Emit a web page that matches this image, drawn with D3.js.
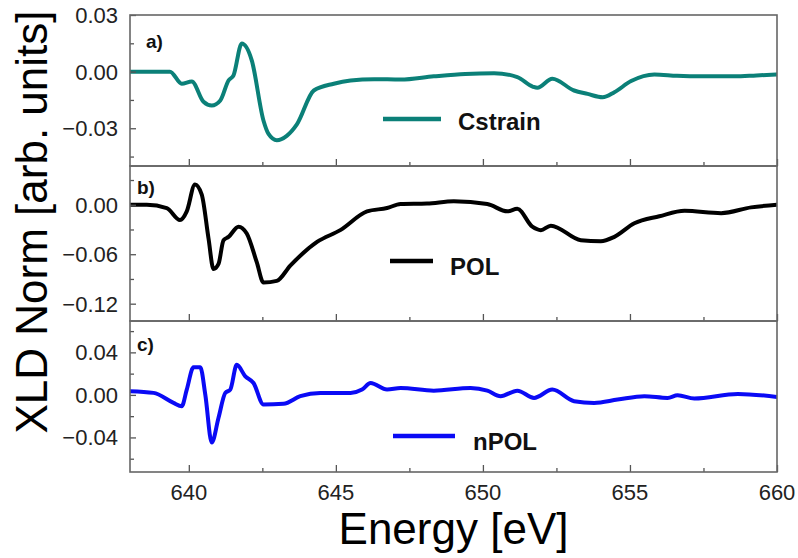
<!DOCTYPE html>
<html><head><meta charset="utf-8">
<script src="https://cdn.jsdelivr.net/npm/d3@7/dist/d3.min.js"></script>
<style>body{margin:0;background:#fff}svg{display:block}text{font-family:"Liberation Sans",Arial,sans-serif}</style>
</head><body><svg id="c" width="798" height="558"></svg>
<script>
// ---- data ----
const cstrainE = [638,639.36,639.76,640.1,640.5,640.78,641.07,641.35,641.52,641.8,642.14,642.54,642.71,642.99,643.33,643.68,644.25,644.93,645.5,646.3,647.2,648.33,649.4,650.38,651.17,651.69,651.85,652.36,653.1,653.56,654.07,654.47,655.04,655.83,656.6,657.42,658.56,659.3,660];
const cstrainV = [0,0,-0.0064,-0.0052,-0.016,-0.018,-0.0153,-0.0047,-0.002,0.0149,0.006,-0.026,-0.033,-0.0363,-0.034,-0.0278,-0.010,-0.0064,-0.0047,-0.0040,-0.0042,-0.0025,-0.0012,-0.0008,-0.0029,-0.0079,-0.0086,-0.0038,-0.010,-0.0118,-0.0136,-0.0109,-0.005,-0.0015,-0.0022,-0.0025,-0.0025,-0.0020,-0.0015];
const polE = [638,638.57,639.25,639.7,639.93,640.21,640.44,640.67,640.84,641.01,641.18,641.35,641.69,641.97,642.31,642.54,642.99,643.45,644.36,645.15,646.06,646.74,647.2,648.1,649.01,650.15,650.83,651.17,651.68,651.97,652.31,653.33,654.01,654.47,655.15,656.0,656.86,658.1,659.12,660];
const polV = [0,0,-0.004,-0.0185,-0.008,0.0246,0.0123,-0.041,-0.078,-0.0718,-0.043,-0.039,-0.0266,-0.0349,-0.0697,-0.0944,-0.0924,-0.0739,-0.0451,-0.0308,-0.0081,-0.004,0.0009,0.0015,0.0042,0.0009,-0.008,-0.0049,-0.0266,-0.0308,-0.0254,-0.043,-0.0443,-0.0389,-0.0225,-0.0140,-0.0074,-0.0102,-0.0032,0];
const npolE = [638,638.8,639.48,639.76,639.93,640.16,640.39,640.56,640.78,641.01,641.24,641.41,641.63,641.92,642.2,642.54,643.22,643.79,644.47,645.5,645.89,646.18,646.74,647.2,648.33,649.58,650.15,650.6,651.17,651.74,652.36,653.1,653.78,654.58,655.49,656.28,656.62,657.19,658.67,660];
const npolV = [0.0035,0.0019,-0.0075,-0.0106,0.005,0.0259,0.0259,0.0003,-0.0448,-0.0215,0.0019,0.005,0.0283,0.0175,0.0112,-0.009,-0.0084,-0.0012,0.0019,0.0019,0.005,0.0112,0.005,0.0065,0.004,0.0065,0.004,-0.0012,0.004,-0.0028,0.005,-0.0059,-0.0075,-0.0044,-0.0012,-0.0028,-0.0003,-0.0034,0.0009,-0.0019];
const xMajorTicks = [640,645,650,655,660];
const xMinorTicks = [642.5,647.5,652.5,657.5];
const yTicksA = [0.03,0.00,-0.03], yMinorA = [0.015,-0.015,-0.045];
const yTicksB = [0.00,-0.06,-0.12], yMinorB = [0.03,-0.03,-0.09];
const yTicksC = [0.04,0.00,-0.04], yMinorC = [0.06,0.02,-0.02,-0.06];
const panelLabels = ["a)","b)","c)"];
const seriesNames = ["Cstrain","POL","nPOL"];
const seriesColors = ["#0b8078","#000000","#0a0af5"];

// ---- layout ----
const svg = d3.select("#c");
const L = 130, R = 777;
const x = d3.scaleLinear().domain([638,660]).range([L,R]);
const panels = [
  {top:15, bot:166, dom:[-0.05,0.03], ticks:yTicksA, minor:yMinorA, E:cstrainE, V:cstrainV, fmt:d3.format(".2f"),
   lab:[146,48], leg:{x1:383,x2:441,y:119,tx:458,ty:130}},
  {top:166, bot:321, dom:[-0.141,0.047], ticks:yTicksB, minor:yMinorB, E:polE, V:polV, fmt:d3.format(".2f"),
   lab:[137,194], leg:{x1:390,x2:433,y:261,tx:450,ty:275}},
  {top:321, bot:472, dom:[-0.0725,0.0695], ticks:yTicksC, minor:yMinorC, E:npolE, V:npolV, fmt:d3.format(".2f"),
   lab:[137,351], leg:{x1:393,x2:455,y:436,tx:473,ty:450}}
];

panels.forEach((p,i)=>{
  const y = d3.scaleLinear().domain(p.dom).range([p.bot,p.top]);
  const g = svg.append("g");
  const cid = "clip"+i;
  svg.append("clipPath").attr("id",cid).append("rect").attr("x",L).attr("y",p.top).attr("width",R-L).attr("height",p.bot-p.top);
  const line = d3.line().x((d,k)=>x(p.E[k])).y(d=>y(d)).curve(d3.curveMonotoneX);
  g.append("path").datum(p.V).attr("d",line).attr("fill","none")
    .attr("stroke",seriesColors[i]).attr("stroke-width",4).attr("stroke-linejoin","round").attr("stroke-linecap","round")
    .attr("clip-path","url(#"+cid+")");
  const style = s=>{s.select(".domain").remove();s.selectAll("line").attr("stroke","#555").attr("stroke-width",1.3);};
  g.append("g").attr("transform",`translate(${L},0)`).call(d3.axisRight(y).tickValues(p.ticks).tickSize(6).tickFormat("")).call(style);
  g.append("g").attr("transform",`translate(${L},0)`).call(d3.axisRight(y).tickValues(p.minor).tickSize(4).tickFormat("")).call(style);
  g.selectAll(".yl").data(p.ticks).enter().append("text")
    .attr("x",118).attr("y",d=>y(d)+8).attr("text-anchor","end")
    .attr("font-size",22).attr("fill","#222").text(d=>p.fmt(d));
  g.append("g").attr("transform",`translate(0,${p.bot})`).call(d3.axisTop(x).tickValues(xMajorTicks).tickSize(7).tickFormat("")).call(style);
  g.append("g").attr("transform",`translate(0,${p.bot})`).call(d3.axisTop(x).tickValues(xMinorTicks).tickSize(4).tickFormat("")).call(style);
  g.append("rect").attr("x",L).attr("y",p.top).attr("width",R-L).attr("height",p.bot-p.top)
    .attr("fill","none").attr("stroke","#666").attr("stroke-width",1.6);
  g.append("text").attr("x",p.lab[0]).attr("y",p.lab[1]).attr("font-size",19).attr("font-weight","bold")
    .attr("fill","#111").text(panelLabels[i]);
  g.append("line").attr("x1",p.leg.x1).attr("x2",p.leg.x2).attr("y1",p.leg.y).attr("y2",p.leg.y)
    .attr("stroke",seriesColors[i]).attr("stroke-width",4.5);
  g.append("text").attr("x",p.leg.tx).attr("y",p.leg.ty).attr("font-size",24).attr("font-weight","bold")
    .attr("fill","#111").text(seriesNames[i]);
});

svg.selectAll(".xl").data(xMajorTicks).enter().append("text")
  .attr("x",d=>x(d)).attr("y",500).attr("text-anchor","middle").attr("font-size",22).attr("fill","#222").text(d=>d);

svg.append("text").attr("x",(L+R)/2).attr("y",544).attr("text-anchor","middle").attr("font-size",44).attr("fill","#000").text("Energy [eV]");
svg.append("text").attr("transform","translate(47,222) rotate(-90)").attr("text-anchor","middle").attr("font-size",44).attr("fill","#000").text("XLD Norm [arb. units]");
</script></body></html>
